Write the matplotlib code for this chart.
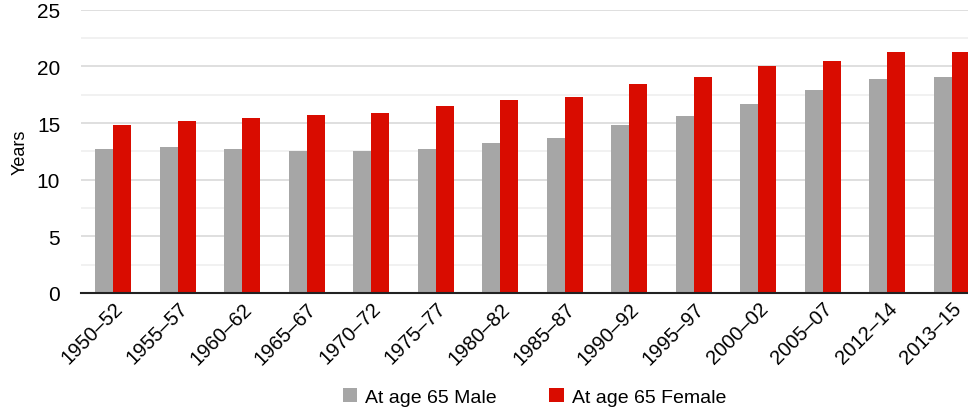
#! /usr/bin/env python3

# Imports
import matplotlib
matplotlib.use("Agg")
import matplotlib.pyplot as plt
import numpy as np


# Data
periods = ["1950–52", "1955–57", "1960–62", "1965–67", "1970–72", "1975–77",
           "1980–82", "1985–87", "1990–92", "1995–97", "2000–02", "2005–07",
           "2012–14", "2013–15"]
male = [12.7, 12.9, 12.7, 12.5, 12.5, 12.7, 13.2, 13.7, 14.8, 15.6, 16.7, 17.9, 18.9, 19.1]
female = [14.8, 15.2, 15.4, 15.7, 15.9, 16.5, 17.0, 17.3, 18.4, 19.1, 20.0, 20.5, 21.3, 21.3]


# Configuration
plt.rcParams['font.family'] = ['Liberation Sans', 'DejaVu Sans']
grey = "#a6a6a6"
red = "#d90c00"
w = 0.28


# Code
fig = plt.figure(figsize=(9.68, 4.14), dpi=100)
ax = fig.add_axes([81 / 968, 120 / 414, 1 - 81 / 968, (294 - 10.7) / 414])

x = np.arange(len(periods))
ax.bar(x - w / 2, male, w, color=grey, label="At age 65 Male", zorder=3)
ax.bar(x + w / 2, female, w, color=red, label="At age 65 Female", zorder=3)

ax.set_ylim(0, 25)
ax.set_xlim(-0.5, 13.25)
ax.set_yticks(np.arange(0, 26, 5))
ax.set_yticks(np.arange(2.5, 25, 5), minor=True)
ax.grid(axis="y", which="major", color="#d9d9d9", linewidth=1.2, zorder=0)
ax.grid(axis="y", which="minor", color="#efefef", linewidth=1.2, zorder=0)
ax.tick_params(axis="y", which="both", length=0, labelsize=15, pad=15)
ax.tick_params(axis="x", length=0, labelsize=14.5, pad=4)
ax.set_xticks(x)
ax.set_xticklabels(periods, rotation=45, ha="right", rotation_mode="anchor")

for s in ["top", "right", "left"]:
    ax.spines[s].set_visible(False)
ax.spines["bottom"].set_color("#222222")
ax.spines["bottom"].set_linewidth(1.5)
ax.spines["bottom"].set_zorder(4)

ax.set_ylabel("Years", fontsize=13, labelpad=6)

fig.legend(loc="lower center", bbox_to_anchor=(0.552, -0.025), ncol=2,
           frameon=False, fontsize=14, handlelength=0.75, handleheight=0.75,
           columnspacing=2.7, handletextpad=0.4)

plt.savefig("out.png", dpi=100)
